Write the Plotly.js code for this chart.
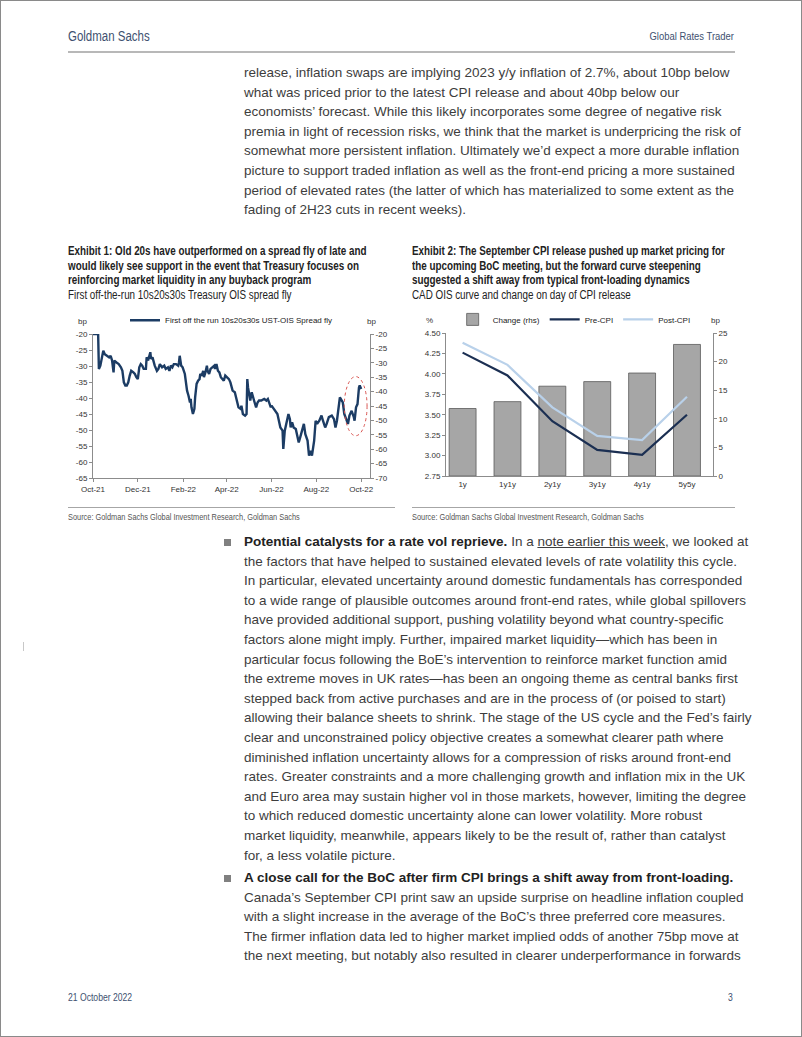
<!DOCTYPE html>
<html>
<head>
<meta charset="utf-8">
<script src="https://cdn.plot.ly/plotly-3.0.1.min.js"></script>
<style>
html,body{margin:0;padding:0;background:#fff;}
#page{position:relative;width:802px;height:1037px;box-sizing:border-box;border:1px solid #8a8a8a;overflow:hidden;font-family:"Liberation Sans",Arial,sans-serif;color:#3a3a3a;}
.abs{position:absolute;white-space:nowrap;}
.nw{display:inline-block;transform:scaleX(0.82);transform-origin:left top;}
.nwr{display:inline-block;transform:scaleX(0.82);transform-origin:right top;}
.hdr{color:#3e5170;}
.body{font-size:13.5px;line-height:19.6px;color:#3d3d3d;}
.ttl{font-size:12px;line-height:14.7px;color:#222;}
.src{font-size:9px;color:#555;}
.rule{position:absolute;height:1px;background:#a6a6a6;}
.bullet{position:absolute;width:7px;height:7px;background:#808080;}
</style>
</head>
<body>
<div id="page">
  <div class="abs hdr" style="left:67px;top:27px;font-size:14px;"><span class="nw">Goldman Sachs</span></div>
  <div class="abs hdr" style="right:67px;top:29px;font-size:11.5px;"><span class="nwr">Global Rates Trader</span></div>
  <div class="rule" style="left:67px;top:50px;width:667px;height:2px;background:#b8b8b8;"></div>

  <div class="abs body" style="left:243px;top:62px;">release, inflation swaps are implying 2023 y/y inflation of 2.7%, about 10bp below<br>what was priced prior to the latest CPI release and about 40bp below our<br>economists’ forecast. While this likely incorporates some degree of negative risk<br>premia in light of recession risks, we think that the market is underpricing the risk of<br>somewhat more persistent inflation. Ultimately we’d expect a more durable inflation<br>picture to support traded inflation as well as the front-end pricing a more sustained<br>period of elevated rates (the latter of which has materialized to some extent as the<br>fading of 2H23 cuts in recent weeks).</div>

  <div class="abs ttl" style="left:67px;top:243px;"><span class="nw"><b>Exhibit 1: Old 20s have outperformed on a spread fly of late and<br>would likely see support in the event that Treasury focuses on<br>reinforcing market liquidity in any buyback program</b><br>First off-the-run 10s20s30s Treasury OIS spread fly</span></div>
  <div class="abs ttl" style="left:411px;top:243px;"><span class="nw"><b>Exhibit 2: The September CPI release pushed up market pricing for<br>the upcoming BoC meeting, but the forward curve steepening<br>suggested a shift away from typical front-loading dynamics</b><br>CAD OIS curve and change on day of CPI release</span></div>

  <div id="chart1" class="abs" style="left:60px;top:305px;width:340px;height:200px;"></div>
  <div id="chart2" class="abs" style="left:405px;top:305px;width:340px;height:200px;"></div>

  <div class="rule" style="left:67px;top:506px;width:327px;"></div>
  <div class="rule" style="left:411px;top:506px;width:323px;"></div>
  <div class="abs src" style="left:67px;top:511px;"><span class="nw">Source: Goldman Sachs Global Investment Research, Goldman Sachs</span></div>
  <div class="abs src" style="left:411px;top:511px;"><span class="nw">Source: Goldman Sachs Global Investment Research, Goldman Sachs</span></div>

  <div class="bullet" style="left:223px;top:538px;"></div>
  <div class="abs body" style="left:243px;top:531px;"><b style="color:#222;">Potential catalysts for a rate vol reprieve.</b> In a <u>note earlier this week</u>, we looked at<br>the factors that have helped to sustained elevated levels of rate volatility this cycle.<br>In particular, elevated uncertainty around domestic fundamentals has corresponded<br>to a wide range of plausible outcomes around front-end rates, while global spillovers<br>have provided additional support, pushing volatility beyond what country-specific<br>factors alone might imply. Further, impaired market liquidity—which has been in<br>particular focus following the BoE’s intervention to reinforce market function amid<br>the extreme moves in UK rates—has been an ongoing theme as central banks first<br>stepped back from active purchases and are in the process of (or poised to start)<br>allowing their balance sheets to shrink. The stage of the US cycle and the Fed’s fairly<br>clear and unconstrained policy objective creates a somewhat clearer path where<br>diminished inflation uncertainty allows for a compression of risks around front-end<br>rates. Greater constraints and a more challenging growth and inflation mix in the UK<br>and Euro area may sustain higher vol in those markets, however, limiting the degree<br>to which reduced domestic uncertainty alone can lower volatility. More robust<br>market liquidity, meanwhile, appears likely to be the result of, rather than catalyst<br>for, a less volatile picture.</div>

  <div class="bullet" style="left:223px;top:874px;"></div>
  <div class="abs body" style="left:243px;top:867px;"><b style="color:#222;">A close call for the BoC after firm CPI brings a shift away from front-loading.</b><br>Canada’s September CPI print saw an upside surprise on headline inflation coupled<br>with a slight increase in the average of the BoC’s three preferred core measures.<br>The firmer inflation data led to higher market implied odds of another 75bp move at<br>the next meeting, but notably also resulted in clearer underperformance in forwards</div>

  <div class="abs" style="left:22px;top:641px;width:1px;height:9px;background:#c8c8c8;"></div>

  <div class="abs hdr" style="left:67px;top:990px;font-size:10.5px;"><span class="nw">21 October 2022</span></div>
  <div class="abs hdr" style="right:68px;top:990px;font-size:10.5px;"><span class="nwr">3</span></div>
</div>

<script>
// ---------- Exhibit 1 data ----------
const flyDates = ['2021-10-20','2021-10-27','2021-10-28','2021-10-30','2021-11-03','2021-11-05','2021-11-08','2021-11-11','2021-11-13','2021-11-15','2021-11-17','2021-11-18','2021-11-21','2021-11-24','2021-11-27','2021-11-29','2021-12-01','2021-12-03','2021-12-05','2021-12-07','2021-12-09','2021-12-11','2021-12-14','2021-12-16','2021-12-18','2021-12-20','2021-12-22','2021-12-24','2021-12-26','2021-12-28','2021-12-31','2022-01-01','2022-01-03','2022-01-06','2022-01-07','2022-01-09','2022-01-12','2022-01-15','2022-01-17','2022-01-19','2022-01-22','2022-01-25','2022-01-27','2022-01-30','2022-02-01','2022-02-03','2022-02-05','2022-02-07','2022-02-10','2022-02-13','2022-02-14','2022-02-15','2022-02-17','2022-02-19','2022-02-22','2022-02-24','2022-02-25','2022-02-27','2022-03-01','2022-03-02','2022-03-03','2022-03-05','2022-03-07','2022-03-08','2022-03-10','2022-03-12','2022-03-14','2022-03-15','2022-03-17','2022-03-19','2022-03-20','2022-03-22','2022-03-24','2022-03-25','2022-03-27','2022-03-29','2022-03-31','2022-04-03','2022-04-04','2022-04-06','2022-04-08','2022-04-10','2022-04-12','2022-04-14','2022-04-16','2022-04-18','2022-04-23','2022-04-25','2022-04-28','2022-05-01','2022-05-03','2022-05-06','2022-05-09','2022-05-10','2022-05-12','2022-05-15','2022-05-17','2022-05-18','2022-05-19','2022-05-21','2022-05-22','2022-05-24','2022-05-26','2022-05-28','2022-05-30','2022-06-01','2022-06-03','2022-06-06','2022-06-10','2022-06-13','2022-06-15','2022-06-17','2022-06-19','2022-06-20','2022-06-23','2022-06-25','2022-06-28','2022-06-30','2022-07-02','2022-07-05','2022-07-06','2022-07-08','2022-07-10','2022-07-13','2022-07-15','2022-07-16','2022-07-18','2022-07-20','2022-07-23','2022-07-25','2022-07-27','2022-07-29','2022-08-01','2022-08-03','2022-08-05','2022-08-08','2022-08-10','2022-08-12','2022-08-14','2022-08-17','2022-08-19','2022-08-21','2022-08-24','2022-08-27','2022-08-29','2022-09-01','2022-09-03','2022-09-06','2022-09-10','2022-09-13','2022-09-15','2022-09-17','2022-09-21','2022-09-23','2022-09-25','2022-09-27','2022-09-30','2022-10-02','2022-10-04','2022-10-07','2022-10-10','2022-10-11','2022-10-13','2022-10-15','2022-10-17','2022-10-18','2022-10-20'];
const flyValues = [-20,-20,-30.9,-29.9,-25.2,-26.3,-26.8,-27.3,-26.8,-28.3,-32.0,-28.3,-28.9,-29.4,-30.4,-31.5,-35.1,-36.1,-36.1,-35.1,-33.0,-31.5,-32.0,-32.5,-33.5,-34.1,-30.4,-29.4,-29.9,-30.9,-30.9,-27.3,-28.3,-25.7,-27.8,-27.3,-29.9,-31.5,-30.9,-29.4,-30.4,-29.9,-30.9,-30.4,-31.5,-29.9,-30.4,-29.4,-29.4,-29.9,-28.9,-26.8,-29.9,-30.4,-32.5,-36.7,-37.7,-39.3,-41.4,-40.3,-42.9,-45.0,-43.4,-39.8,-35.6,-34.6,-34.1,-32.5,-33.0,-31.5,-33.5,-32.0,-29.9,-31.5,-32.5,-30.9,-30.4,-29.9,-30.9,-29.4,-31.5,-32.0,-33.5,-34.1,-34.6,-33.0,-34.1,-35.1,-37.7,-38.2,-39.8,-42.9,-43.4,-42.4,-45.0,-45.5,-45.0,-34.1,-36.7,-38.8,-40.8,-38.2,-40.3,-41.4,-42.9,-41.4,-40.8,-40.8,-40.3,-40.8,-40.3,-41.4,-42.9,-42.4,-43.4,-44.0,-45.0,-47.1,-49.2,-50.2,-55.9,-50.2,-48.1,-45.0,-46.6,-49.2,-47.6,-49.2,-49.7,-51.8,-53.9,-52.3,-50.2,-48.1,-51.3,-53.3,-58.0,-56.5,-58.0,-53.3,-47.1,-48.1,-47.1,-45.5,-47.1,-49.2,-48.1,-46.0,-45.5,-46.6,-49.2,-47.1,-39.8,-40.8,-41.4,-45.0,-47.1,-48.1,-45.5,-44.0,-46.0,-47.1,-42.9,-41.9,-36.7,-36.1,-37.2];
const flySeriesName = 'First off the run 10s20s30s UST-OIS Spread fly';
const flyTickDates = ['2021-10-20','2021-12-20','2022-02-20','2022-04-20','2022-06-20','2022-08-20','2022-10-20'];
const flyTickLabels = ['Oct-21','Dec-21','Feb-22','Apr-22','Jun-22','Aug-22','Oct-22'];
const flyLeftTicks = [-20,-25,-30,-35,-40,-45,-50,-55,-60,-65];
const flyRightTicks = [-20,-25,-30,-35,-40,-45,-50,-55,-60,-65,-70];
const highlightDates = ['2022-09-27','2022-10-28'];
const highlightRange = [-51.8,-33.3];

// ---------- Exhibit 2 data ----------
const tenors = ['1y','1y1y','2y1y','3y1y','4y1y','5y5y'];
const changeBp = [11.8,13.0,15.7,16.5,18.0,23.0];
const preCPI = [4.26,3.98,3.42,3.07,3.01,3.50];
const postCPI = [4.38,4.11,3.59,3.24,3.19,3.72];
const pctTicks = [2.75,3.00,3.25,3.50,3.75,4.00,4.25,4.50];
const bpTicks = [0,5,10,15,20,25];

const hy = v => String(v).replace('\u2212','-');
const axCommon = {showline:true, linecolor:'#8c8c8c', linewidth:1, ticks:'outside', ticklen:3, tickcolor:'#8c8c8c', showgrid:false, zeroline:false, fixedrange:true};
const baseFont = {family:'"Liberation Sans", Arial, sans-serif', size:8, color:'#333'};

Plotly.newPlot('chart1', [
  {x: flyDates, y: flyValues, type:'scatter', mode:'lines', name: flySeriesName,
   line:{color:'#1c3c64', width:2.4}},
  // empty trace so the right-hand (secondary) axis gets drawn
  {x: [], y: [], type:'scatter', mode:'lines', yaxis:'y2', showlegend:false, hoverinfo:'skip'}
], {
  width:340, height:200,
  margin:{l:32, r:31, t:28, b:28, autoexpand:false},
  paper_bgcolor:'rgba(0,0,0,0)', plot_bgcolor:'rgba(0,0,0,0)',
  font: baseFont,
  showlegend:true,
  legend:{orientation:'h', x:0.5, xanchor:'center', y:1.095, yanchor:'middle', font:{size:8, color:'#222'}, bgcolor:'rgba(0,0,0,0)', itemwidth:30},
  xaxis: Object.assign({}, axCommon, {type:'date', range:['2021-10-20','2022-11-01'], tickvals: flyTickDates, ticktext: flyTickLabels, tickangle:0}),
  yaxis: Object.assign({}, axCommon, {range:[-65,-20], tickvals: flyLeftTicks, ticktext: flyLeftTicks.map(hy)}),
  yaxis2: Object.assign({}, axCommon, {range:[-70,-20], overlaying:'y', side:'right', anchor:'x', tickvals: flyRightTicks, ticktext: flyRightTicks.map(hy)}),
  shapes:[{type:'circle', xref:'x', yref:'y', x0:highlightDates[0], x1:highlightDates[1], y0:highlightRange[0], y1:highlightRange[1], line:{color:'#d9534f', width:1, dash:'dot'}}],
  annotations:[
    {text:'bp', xref:'paper', yref:'paper', x:0, y:1, xshift:-17, yshift:13, yanchor:'middle', showarrow:false, font:{size:8, color:'#333'}},
    {text:'bp', xref:'paper', yref:'paper', x:1, y:1, xshift:8, yshift:13, yanchor:'middle', showarrow:false, font:{size:8, color:'#333'}}
  ]
}, {staticPlot:true, displayModeBar:false});

Plotly.newPlot('chart2', [
  {x: tenors, y: changeBp, type:'bar', name:'Change (rhs)', yaxis:'y', width:0.6,
   marker:{color:'#a6a6a6', line:{color:'#5a5a5a', width:0.8}}},
  {x: tenors, y: preCPI, type:'scatter', mode:'lines', name:'Pre-CPI', yaxis:'y2', line:{color:'#1b2f52', width:2.2}},
  {x: tenors, y: postCPI, type:'scatter', mode:'lines', name:'Post-CPI', yaxis:'y2', line:{color:'#b9d1ea', width:2.2}}
], {
  width:340, height:200,
  margin:{l:40, r:33, t:27, b:30, autoexpand:false},
  paper_bgcolor:'rgba(0,0,0,0)', plot_bgcolor:'rgba(0,0,0,0)',
  font: baseFont,
  showlegend:true,
  legend:{orientation:'h', x:0.48, xanchor:'center', y:1.095, yanchor:'middle', font:{size:8, color:'#222'}, bgcolor:'rgba(0,0,0,0)', traceorder:'normal', itemwidth:30},
  bargap:0.4,
  xaxis: Object.assign({}, axCommon, {type:'category', range:[-0.37,5.58], ticks:'', tickangle:0}),
  yaxis: Object.assign({}, axCommon, {side:'right', range:[0,25], tickvals: bpTicks, ticktext: bpTicks.map(String)}),
  yaxis2: Object.assign({}, axCommon, {side:'left', overlaying:'y', range:[2.75,4.5], tickvals: pctTicks, ticktext: pctTicks.map(v => v.toFixed(2))}),
  annotations:[
    {text:'%', xref:'paper', yref:'paper', x:0, y:1, xshift:-22, yshift:13, yanchor:'middle', showarrow:false, font:{size:8, color:'#333'}},
    {text:'bp', xref:'paper', yref:'paper', x:1, y:1, xshift:9, yshift:13, yanchor:'middle', showarrow:false, font:{size:8, color:'#333'}}
  ]
}, {staticPlot:true, displayModeBar:false});
</script>
</body>
</html>
